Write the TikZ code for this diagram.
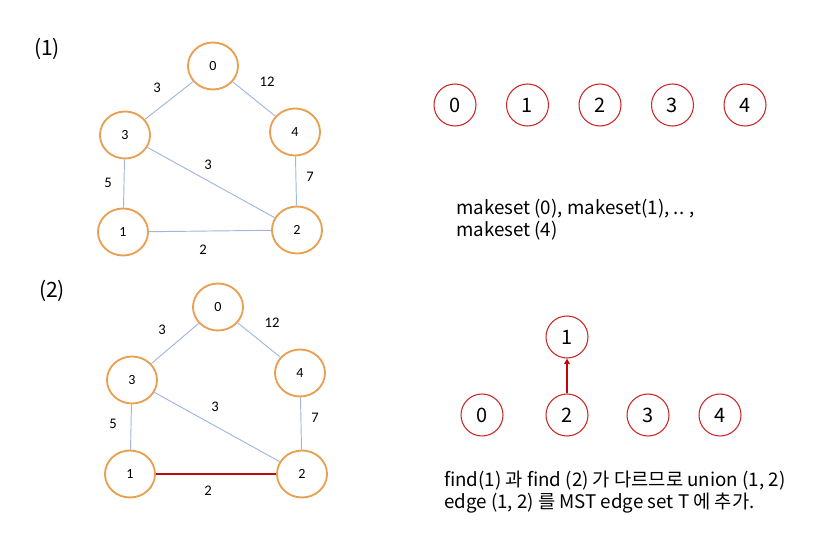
\documentclass[tikz,border=0pt]{standalone}
\usepackage{fontspec}
\setmainfont{Carlito}
\newfontfamily\krfont{Noto Sans CJK KR}
\usepackage{tikz}
\usetikzlibrary{shapes.geometric,arrows.meta,positioning}
\definecolor{nodeorange}{RGB}{234,160,82}
\definecolor{edgeblue}{RGB}{160,182,226}
\definecolor{setred}{RGB}{205,38,38}
\definecolor{mstred}{RGB}{192,8,8}

\begin{document}
\begin{tikzpicture}[x=0.03cm, y=-0.03cm,
    gnode/.style={ellipse, draw=nodeorange, line width=1.6pt, minimum width=1.5cm, minimum height=1.41cm, inner sep=0pt, font=\fontsize{12}{14}\selectfont},
    gedge/.style={draw=edgeblue, line width=0.8pt},
    wlabel/.style={font=\fontsize{12.5}{14}\selectfont},
    partlabel/.style={font=\krfont\fontsize{18}{20}\selectfont},
    setnode/.style={circle, draw=setred, line width=0.9pt, minimum size=1.26cm, inner sep=0pt, font=\krfont\fontsize{17}{20}\selectfont},
    steptext/.style={font=\krfont\fontsize{16}{18.5}\selectfont}]
    \useasboundingbox (0,0) rectangle (814,540);

    % Graph (1)
    \node[partlabel] (lab1) at (47,49) {(1)};
    \foreach \n/\x/\y in {0/213/66, 3/125/135, 4/295/132, 1/123/232, 2/297/230}
        \node[gnode] (a\n) at (\x,\y) {\n};
    \foreach \u/\v in {0/3, 0/4, 3/1, 3/2, 4/2, 1/2}
        \draw[gedge] (a\u) -- (a\v);
    \foreach \w/\x/\y [count=\i] in {3/157/88, 12/267/82, 3/208/165, 5/108/183, 7/310/177, 2/203/250}
        \node[wlabel] (aw\i) at (\x,\y) {\w};

    % Graph (2)
    \node[partlabel] (lab2) at (52,291) {(2)};
    \foreach \n/\x/\y in {0/218/307, 3/132/380, 4/300/373, 1/130/474, 2/302/474}
        \node[gnode] (b\n) at (\x,\y) {\n};
    \foreach \u/\v in {0/3, 0/4, 3/1, 3/2, 4/2}
        \draw[gedge] (b\u) -- (b\v);
    \draw[draw=mstred, line width=2.4pt] (b1) -- (b2);
    \foreach \w/\x/\y [count=\i] in {3/162/330, 12/272/323, 3/215/407, 5/113/424, 7/315/418, 2/208/491}
        \node[wlabel] (bw\i) at (\x,\y) {\w};

    % makeset
    \foreach \n in {0,...,4}
        \node[setnode] (s\n) at (455+72.5*\n,105) {\n};
    \node[steptext, anchor=west, align=left] (maketxt) at (452,220) {makeset (0), makeset(1), .. ,\\makeset (4)};

    % union (1, 2)
    \node[setnode] (t1) at (567,337) {1};
    \foreach \n/\x in {0/482, 2/567, 3/648, 4/720}
        \node[setnode] (t\n) at (\x,415) {\n};
    \draw[-{Triangle[length=4.5pt,width=4.5pt]}, draw=mstred, fill=mstred, line width=1.6pt] (t2) -- (t1);
    \node[steptext, anchor=west, align=left] (uniontxt) at (440,492) {find(1) 과 find (2) 가 다르므로 union (1, 2)\\edge (1, 2) 를 MST edge set T 에 추가.};
\end{tikzpicture}
\end{document}
